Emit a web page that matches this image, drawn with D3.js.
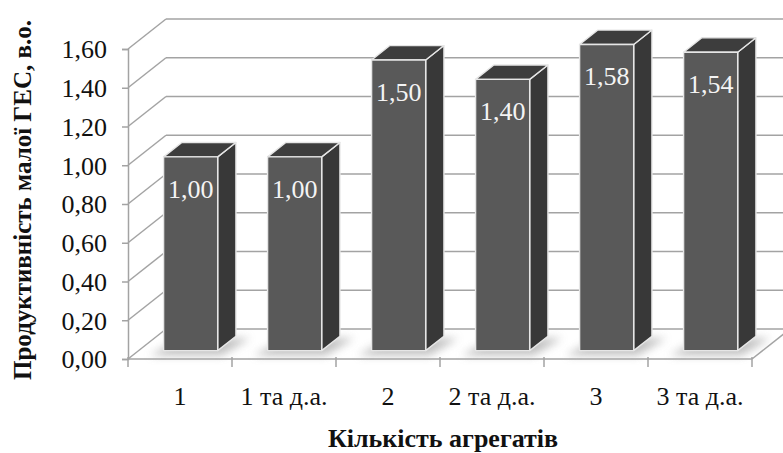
<!DOCTYPE html>
<html>
<head>
<meta charset="utf-8">
<script src="https://cdn.jsdelivr.net/npm/d3@7"></script>
<style>
  html, body { margin: 0; padding: 0; background: #fff; }
  svg { display: block; }
</style>
</head>
<body>
<svg id="chart" width="783" height="453"></svg>
<script>
// Relative output of a small hydro plant by number of generating units
const categories = ["1", "1 та д.а.", "2", "2 та д.а.", "3", "3 та д.а."];
const values = [1.00, 1.00, 1.50, 1.40, 1.58, 1.54];
const yTicks = [0, 0.2, 0.4, 0.6, 0.8, 1.0, 1.2, 1.4, 1.6];
const xTitle = "Кількість агрегатів";
const yTitle = "Продуктивність малої  ГЕС, в.о.";

const SERIF = "'Liberation Serif', 'Times New Roman', serif";
const svg = d3.select("#chart");

// Plot front plane and oblique depth of the 3-D box
const x0 = 128, x1 = 752, yBottom = 359, yTop = 49;
const DX = 38, DY = -30;          // full depth offset of the back wall
const F = 0.28, B = 0.76;         // bar front / back positions in the depth

const x = d3.scaleBand().domain(categories).range([x0, x1]).padding(0);
const y = d3.scaleLinear().domain([0, 1.6]).range([yBottom, yTop]);
const fmt = v => d3.format(".2f")(v).replace(".", ",");

const gridColor = "#a3a3a3";

// Soft blur for the floor shadows
const defs = svg.append("defs");
defs.append("filter").attr("id", "shadow").attr("x", "-50%").attr("y", "-50%")
  .attr("width", "200%").attr("height", "200%")
  .append("feGaussianBlur").attr("stdDeviation", 4);

// Back wall gridlines
svg.append("g").selectAll("line").data(yTicks).join("line")
  .attr("x1", x0 + DX).attr("x2", x1 + DX + 40)
  .attr("y1", d => y(d) + DY).attr("y2", d => y(d) + DY)
  .attr("stroke", gridColor).attr("stroke-width", 1.5);

// Side wall gridlines
svg.append("g").selectAll("line").data(yTicks).join("line")
  .attr("x1", x0).attr("x2", x0 + DX)
  .attr("y1", d => y(d)).attr("y2", d => y(d) + DY)
  .attr("stroke", gridColor).attr("stroke-width", 1.5);

// Floor: right edge
svg.append("line")
  .attr("x1", x1).attr("y1", y(0)).attr("x2", x1 + DX).attr("y2", y(0) + DY)
  .attr("stroke", gridColor).attr("stroke-width", 1.5);

// Y axis along the front left edge
const yAxis = d3.axisLeft(y).tickValues(yTicks).tickSize(6).tickPadding(15)
  .tickFormat(fmt);
const gy = svg.append("g").attr("transform", `translate(${x0},0)`).call(yAxis)
  .attr("font-family", SERIF).attr("font-size", 26);
gy.select(".domain").attr("stroke", gridColor).attr("stroke-width", 1.5);
gy.selectAll(".tick line").attr("stroke", gridColor).attr("stroke-width", 1.5);
gy.selectAll(".tick text").style("font-family", SERIF)
  .attr("font-size", 26).attr("fill", "#111").attr("dy", "0.34em");

// Front floor edge with category boundary ticks
svg.append("line").attr("x1", x0).attr("x2", x1)
  .attr("y1", y(0)).attr("y2", y(0))
  .attr("stroke", gridColor).attr("stroke-width", 1.5);
const bounds = categories.map(c => x(c)).concat([x1]);
svg.append("g").selectAll("line").data(bounds).join("line")
  .attr("x1", d => d).attr("x2", d => d)
  .attr("y1", y(0) - 2).attr("y2", y(0) + 8)
  .attr("stroke", gridColor).attr("stroke-width", 1.5);

// Category labels
svg.append("g").selectAll("text").data(categories).join("text")
  .attr("x", d => x(d) + x.bandwidth() / 2)
  .attr("y", 405)
  .attr("text-anchor", "middle")
  .style("font-family", SERIF)
  .attr("font-size", 26).attr("fill", "#111")
  .text(d => d);

// Bars
const barW = x.bandwidth() * 0.52;
const data = categories.map((c, i) => ({ c, v: values[i] }));
const bars = svg.append("g");

data.forEach(d => {
  const cx = x(d.c) + x.bandwidth() / 2;
  const l = cx - barW / 2, r = cx + barW / 2;
  const fdx = DX * F, fdy = DY * F, bdx = DX * B, bdy = DY * B;
  const yb = y(0), yt = y(d.v);
  const g = bars.append("g");

  // floor shadow
  g.append("polygon")
    .attr("points", [
      [l + fdx - 14, yb + fdy + 5], [r + fdx + 4, yb + fdy + 5],
      [r + bdx + 14, yb + bdy + 2], [l + bdx, yb + bdy + 2]
    ].map(p => p.join(",")).join(" "))
    .attr("fill", "#a8a8a8").attr("opacity", 0.7)
    .attr("filter", "url(#shadow)");

  const face = (pts, fill) => g.append("polygon")
    .attr("points", pts.map(q => q.join(",")).join(" "))
    .attr("fill", fill)
    .attr("stroke", "#e6e6e6").attr("stroke-width", 1.4)
    .attr("stroke-linejoin", "round");
  // side face
  face([[r + fdx, yb + fdy], [r + bdx, yb + bdy], [r + bdx, yt + bdy], [r + fdx, yt + fdy]], "#383838");
  // top face
  face([[l + fdx, yt + fdy], [r + fdx, yt + fdy], [r + bdx, yt + bdy], [l + bdx, yt + bdy]], "#3d3d3d");
  // front face
  face([[l + fdx, yb + fdy], [r + fdx, yb + fdy], [r + fdx, yt + fdy], [l + fdx, yt + fdy]], "#595959");

  // value label inside the top of the bar
  g.append("text")
    .attr("x", cx + fdx)
    .attr("y", yt + fdy + 41)
    .attr("text-anchor", "middle")
    .style("font-family", SERIF)
    .attr("font-size", 26).attr("fill", "#f4f4f4")
    .text(fmt(d.v));
});

// Axis titles
svg.append("text")
  .attr("x", 443).attr("y", 447)
  .attr("text-anchor", "middle")
  .style("font-family", SERIF)
  .attr("font-size", 26).attr("font-weight", "bold").attr("fill", "#111")
  .text(xTitle);

svg.append("text")
  .attr("transform", "translate(31,200) rotate(-90)")
  .attr("text-anchor", "middle")
  .style("font-family", SERIF)
  .attr("font-size", 25).attr("font-weight", "bold").attr("fill", "#111")
  .text(yTitle);
</script>
</body>
</html>
